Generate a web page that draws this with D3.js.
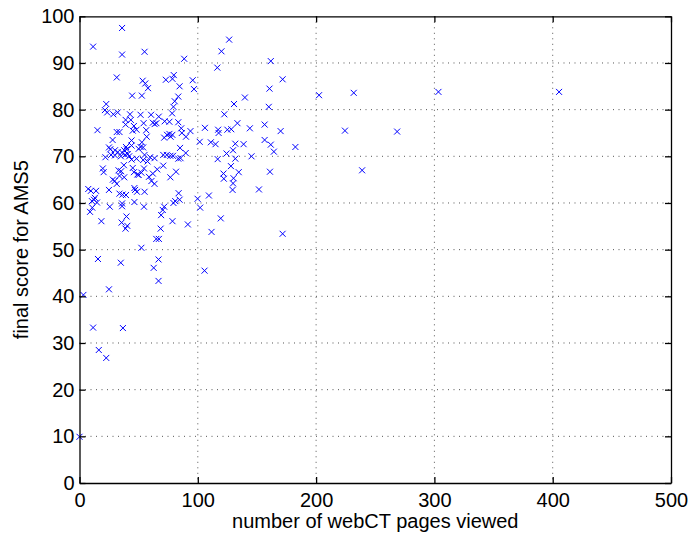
<!DOCTYPE html>
<html>
<head>
<meta charset="utf-8">
<script src="https://cdn.jsdelivr.net/npm/d3@7"></script>
<style>
  body { margin: 0; background: #fff; }
  svg { display: block; }
  text { font-family: "Liberation Sans", Arial, Helvetica, sans-serif; }
</style>
</head>
<body>
<div id="chart"></div>
<script>

// number of webCT pages viewed (x) and final score for AMS5 (y)
var pagesViewed = [
	36, 11.5, 36, 55, 126.5, 120, 88.5, 161.7, 116.5, 31.5,
	171.7, 95.7, 73, 79.7, 78.6, 53.4, 55.6, 57.9, 96.8, 160.6,
	84.6, 44.5, 52.7, 83.5, 202.5, 231.8, 303.4, 405.4, 139.8, 80.5,
	22.6, 130.6, 160, 79.4, 21.5, 23.4, 28.6, 32.3, 51.6, 60.5,
	78.3, 122.4, 42.7, 67, 39, 43.4, 54.2, 62, 63.5, 65,
	72, 76, 83.5, 133.5, 156.5, 15.2, 39, 46, 48.2, 56.4,
	31.5, 33.8, 93.8, 106, 117.2, 125, 128.3, 144, 170, 224.4,
	268.5, 86, 86.5, 117.6, 156.5, 90, 71.6, 74, 76, 77,
	78.5, 56.8, 28, 44, 52.7, 101.6, 111, 115, 131.7, 138.7,
	161.7, 182.5, 44, 39.3, 24.9, 51.6, 53.8, 85, 30, 37.8,
	50, 129.8, 164.3, 89.8, 32.3, 36, 38.6, 40.8, 30, 26.7,
	55, 70.8, 73.8, 76.8, 79, 21.9, 48.2, 59.7, 63.4, 83.5,
	116.8, 131.7, 145.4, 124.3, 53.8, 44, 57.5, 85.4, 37.5, 54.5,
	65.7, 70.8, 128, 238.9, 161, 134.6, 19.7, 20.4, 35.2, 33.8,
	37.8, 46, 48.9, 52.3, 62, 81.6, 76.8, 121.7, 122, 130.2,
	28.2, 29.7, 31.5, 60.8, 63.4, 129.8, 129.4, 151.7, 7.4, 9.6,
	14, 24.9, 33.8, 39.3, 36.4, 46.4, 48.6, 55, 83.8, 109.4,
	99.8, 13, 12.2, 10.5, 14.8, 46.4, 36, 80.9, 79.4, 84.6,
	36, 25.6, 54.5, 71.6, 102, 10.8, 8.9, 70.4, 69, 39.7,
	119.4, 18.5, 78.6, 35.6, 40.4, 91.6, 38.9, 68.6, 111.6, 171.7,
	64.9, 67.1, 52.3, 15.6, 66.8, 34.9, 62.7, 105.7, 66.8, 24.9,
	3.3, 11.5, 36.7, 16.3, 22.6, 0,
	58.7, 40, 42, 35, 45, 50, 26, 33, 45, 47
];

var finalScore = [
	97.5, 93.5, 91.8, 92.4, 95, 92.5, 90.9, 90.4, 89, 86.9,
	86.5, 86.3, 86.4, 87.4, 86.6, 86.2, 85.6, 84.6, 84.4, 84.5,
	85, 83, 83, 82.8, 83.1, 83.6, 83.8, 83.8, 82.6, 81.8,
	81.2, 81.2, 80.6, 80.6, 79.9, 79.4, 79, 79.4, 78.9, 78.9,
	79.2, 79, 79, 78.5, 77.8, 77.8, 77.1, 77.2, 76.9, 77.1,
	77.5, 77.4, 77.3, 77.1, 76.8, 75.6, 76.8, 76.5, 75.7, 75.6,
	75.2, 75.2, 75.4, 76.1, 75.7, 75.7, 75.8, 76, 75.4, 75.5,
	75.3, 76, 75, 75, 73.5, 74.2, 74, 74.6, 74.8, 74.2,
	74.6, 74.2, 73.5, 73.4, 73, 73.1, 73, 72.6, 72.7, 72.6,
	72.5, 72, 72.3, 72, 71.9, 72, 71.9, 71.8, 71.3, 71.3,
	71.6, 71.3, 71, 70.7, 70.9, 70.8, 70.3, 70.5, 70.2, 70.3,
	70.3, 70.3, 70.3, 70.1, 70.1, 69.8, 69.5, 69.8, 69.6, 69.5,
	69.4, 69.5, 70, 70.6, 69.2, 69.3, 68.9, 69.6, 68.1, 67.4,
	67.2, 68, 67.9, 67, 66.7, 66.6, 67.4, 66.6, 66.8, 65.8,
	65.5, 66.6, 66.1, 66.5, 66.3, 66.7, 65.5, 66.3, 65.2, 65.3,
	65, 64.7, 64.1, 64.7, 64.1, 64.2, 62.8, 62.9, 63, 62.6,
	62.6, 62.8, 62, 61.7, 61.8, 63.2, 62.4, 62.4, 62.1, 61.6,
	60.9, 61.1, 60.7, 60.4, 60.1, 60.2, 59.9, 60.4, 60, 60.7,
	59.3, 59.2, 59.2, 59.2, 59, 59, 58.1, 58.5, 57.4, 57.1,
	56.7, 56.1, 56.1, 55.8, 55.1, 55.4, 54.5, 54.5, 53.8, 53.4,
	52.3, 52.3, 50.4, 48, 47.9, 47.2, 46.1, 45.5, 43.3, 41.5,
	40.3, 33.3, 33.2, 28.5, 26.8, 9.9,
	65.6, 71.5, 70, 70, 67.5, 66, 71.5, 67, 75.5, 62.8
];

var xTicks = [0, 100, 200, 300, 400, 500];
var yTicks = [0, 10, 20, 30, 40, 50, 60, 70, 80, 90, 100];

var w = 688, h = 534;
var margin = {top: 16.3, right: 17, bottom: 51, left: 79.5};
var plotW = w - margin.left - margin.right;
var plotH = h - margin.top - margin.bottom;

var svg = d3.select("#chart")
	.append("svg")
	.attr("width", w)
	.attr("height", h);

var g = svg.append("g")
	.attr("transform", "translate(" + margin.left + "," + margin.top + ")");

var xScale = d3.scaleLinear().domain([0, 500]).range([0, plotW]);
var yScale = d3.scaleLinear().domain([0, 100]).range([plotH, 0]);

// dotted grid
g.selectAll("line.vgrid")
	.data(xTicks.slice(1, -1))
	.enter()
	.append("line")
	.attr("class", "vgrid")
	.attr("x1", d => xScale(d))
	.attr("x2", d => xScale(d))
	.attr("y1", 0)
	.attr("y2", plotH)
	.attr("stroke", "#555")
	.attr("stroke-width", 1)
	.attr("stroke-dasharray", "1,4.5");

g.selectAll("line.hgrid")
	.data(yTicks.slice(1, -1))
	.enter()
	.append("line")
	.attr("class", "hgrid")
	.attr("x1", 0)
	.attr("x2", plotW)
	.attr("y1", d => yScale(d))
	.attr("y2", d => yScale(d))
	.attr("stroke", "#555")
	.attr("stroke-width", 1)
	.attr("stroke-dasharray", "1,4.5");

// x markers
var points = pagesViewed.map((x, i) => [x, finalScore[i]]);
var s = 3;

g.selectAll("path.mark")
	.data(points)
	.enter()
	.append("path")
	.attr("class", "mark")
	.attr("d", function(d) {
		var cx = xScale(d[0]), cy = yScale(d[1]);
		return "M" + (cx - s) + "," + (cy - s) + "L" + (cx + s) + "," + (cy + s) +
			"M" + (cx - s) + "," + (cy + s) + "L" + (cx + s) + "," + (cy - s);
	})
	.attr("stroke", "#0000ff")
	.attr("stroke-width", 1)
	.attr("fill", "none");

// axes, ticks pointing inwards on all four sides (box on)
function styleAxis(sel) {
	sel.select(".domain").attr("stroke", "#000").attr("stroke-width", 1.3);
	sel.selectAll(".tick line").attr("stroke", "#000").attr("stroke-width", 1.3);
	sel.selectAll(".tick text")
		.attr("fill", "#000")
		.style("font-size", "20px")
		.style("font-family", "'Liberation Sans', Arial, sans-serif");
}

g.append("g")
	.attr("transform", "translate(0," + plotH + ")")
	.call(d3.axisBottom(xScale).tickValues(xTicks).tickSizeInner(-6).tickSizeOuter(0).tickPadding(10))
	.call(styleAxis);

g.append("g")
	.call(d3.axisTop(xScale).tickValues(xTicks).tickSizeInner(-6).tickSizeOuter(0).tickFormat(""))
	.call(styleAxis);

g.append("g")
	.call(d3.axisLeft(yScale).tickValues(yTicks).tickSizeInner(-6).tickSizeOuter(0).tickPadding(5))
	.call(styleAxis);

g.append("g")
	.attr("transform", "translate(" + plotW + ",0)")
	.call(d3.axisRight(yScale).tickValues(yTicks).tickSizeInner(-6).tickSizeOuter(0).tickFormat(""))
	.call(styleAxis);

// axis labels
svg.append("text")
	.attr("x", margin.left + plotW / 2)
	.attr("y", 528)
	.attr("text-anchor", "middle")
	.style("font-size", "20px")
	.text("number of webCT pages viewed");

svg.append("text")
	.attr("transform", "translate(28," + (margin.top + plotH / 2) + ") rotate(-90)")
	.attr("text-anchor", "middle")
	.style("font-size", "20px")
	.text("final score for AMS5");

</script>
</body>
</html>
